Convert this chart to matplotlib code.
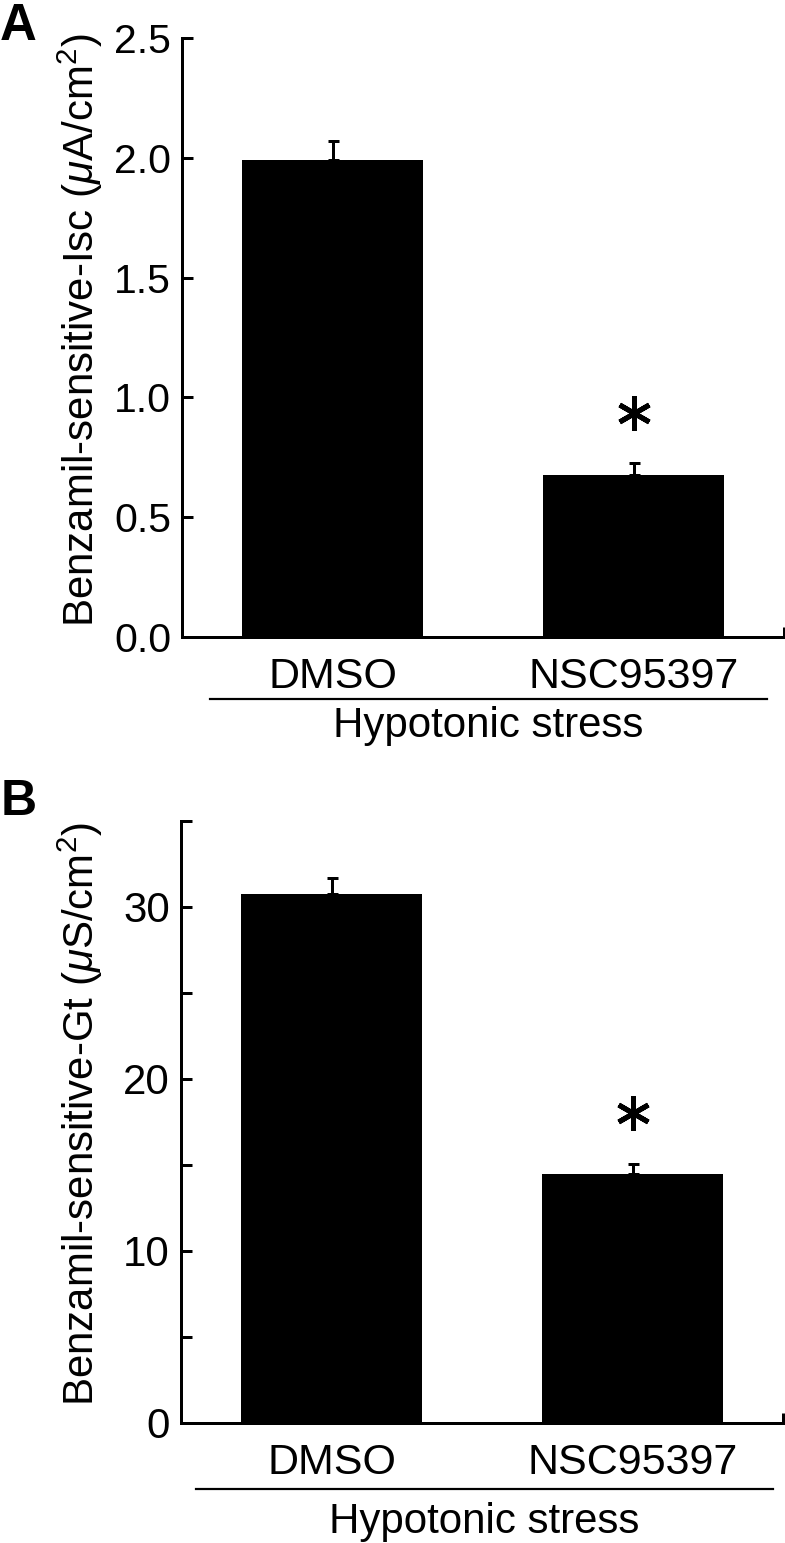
import matplotlib
matplotlib.use("Agg")
import matplotlib.pyplot as plt
from matplotlib.lines import Line2D

plt.rcParams['font.family'] = ['Liberation Sans', 'DejaVu Sans']
plt.rcParams['mathtext.fontset'] = 'custom'
plt.rcParams['mathtext.rm'] = 'Liberation Sans'
plt.rcParams['mathtext.it'] = 'Liberation Sans:italic'
plt.rcParams['mathtext.bf'] = 'Liberation Sans:bold'

# ---- data ----
categories = ["DMSO", "NSC95397"]
isc_values = [1.99, 0.675]
isc_errors = [0.08, 0.05]
gt_values = [30.75, 14.5]
gt_errors = [0.95, 0.55]
group_label = "Hypotonic stress"
isc_ticks = [0.0, 0.5, 1.0, 1.5, 2.0, 2.5]
isc_ticklabels = ["0.0", "0.5", "1.0", "1.5", "2.0", "2.5"]
gt_ticks = [0, 10, 20, 30]
gt_minor = [5, 15, 25, 35]
significant = [False, True]

W, H = 785, 1543
fig = plt.figure(figsize=(W / 100, H / 100), dpi=100)

def px(v):
    return v * 72 / 100  # pixels -> points

def make_panel(rect, values, errors, ylim, major, majlabels, minor, ylabel,
               ylabel_xy, line_span, line_y, text_y, star_off, letter, letter_xy,
               letter_fs, tick_fs):
    ax = fig.add_axes(rect)
    x = list(range(len(categories)))
    ax.bar(x, values, width=0.6, color='black', edgecolor='none', zorder=2)
    ax.errorbar(x, values, yerr=[[0] * len(errors), errors], fmt='none',
                ecolor='black', elinewidth=px(3), capsize=px(5.5),
                capthick=px(3), zorder=1)
    ax.set_xlim(-0.5, 1.5)
    ax.set_ylim(*ylim)
    for s in ['top', 'right']:
        ax.spines[s].set_visible(False)
    for s in ['left', 'bottom']:
        ax.spines[s].set_linewidth(px(3))
    ax.set_yticks(major)
    ax.set_yticklabels(majlabels)
    if minor:
        ax.set_yticks(minor, minor=True)
    ax.tick_params(axis='y', which='both', direction='in', length=px(11),
                   width=px(3), pad=px(11), labelsize=tick_fs)
    ax.set_xticks(x)
    ax.set_xticklabels(categories)
    ax.set_xticks([1.5], minor=True)
    ax.tick_params(axis='x', which='major', length=0, pad=px(20),
                   labelsize=px(43))
    ax.tick_params(axis='x', which='minor', direction='in', length=px(10),
                   width=px(3))
    for xi, v, e, sig in zip(x, values, errors, significant):
        if sig:
            ax.plot([xi], [v + e + star_off], marker=(6, 2, 0), markersize=px(34),
                    markeredgewidth=px(5), color='black', clip_on=False)
    fig.text(ylabel_xy[0] / W, 1 - ylabel_xy[1] / H, ylabel, rotation=90,
             ha='center', va='center', fontsize=px(42))
    fig.add_artist(Line2D([line_span[0] / W, line_span[1] / W],
                          [1 - line_y / H, 1 - line_y / H],
                          color='black', linewidth=px(2.2)))
    fig.text((line_span[0] + line_span[1]) / 2 / W, 1 - text_y / H, group_label,
             ha='center', va='center', fontsize=px(42))
    fig.text(letter_xy[0] / W, 1 - letter_xy[1] / H, letter, ha='left',
             va='baseline', fontsize=letter_fs, fontweight='bold')
    return ax

make_panel([182 / W, 1 - 637 / H, 602 / W, 599 / H], isc_values, isc_errors,
           (0, 2.5), isc_ticks, isc_ticklabels, None,
           r'Benzamil-sensitive-Isc ($\mu$A/cm$^2$)', (80, 330),
           (210, 767), 699, 726, 0.21, 'A', (0, 40), px(51), px(41))

make_panel([181 / W, 1 - 1423 / H, 602 / W, 602 / H], gt_values, gt_errors,
           (0, 35), gt_ticks, [str(t) for t in gt_ticks], gt_minor,
           r'Benzamil-sensitive-Gt ($\mu$S/cm$^2$)', (80, 1114),
           (196, 773), 1489, 1522, 2.97, 'B', (1, 815), px(50), px(42))

fig.savefig("out.png", dpi=100)
